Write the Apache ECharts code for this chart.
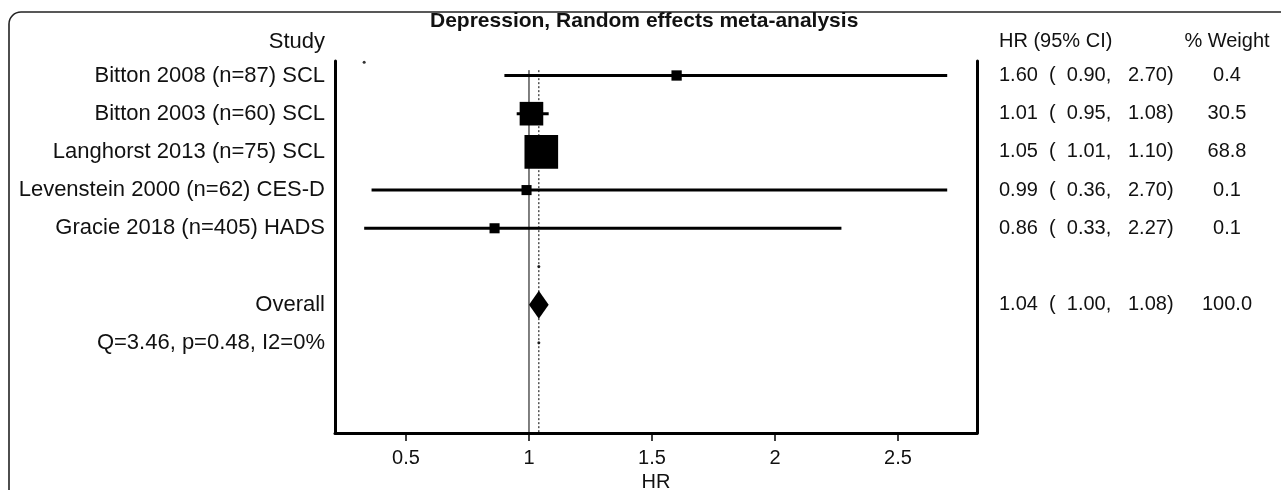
<!DOCTYPE html>
<html>
<head>
<meta charset="utf-8">
<script src="https://cdn.jsdelivr.net/npm/echarts@6/dist/echarts.min.js"></script>
<style>
  html, body { margin: 0; padding: 0; background: #fff; }
  #chart { width: 1281px; height: 490px; }
</style>
</head>
<body>
<div id="chart"></div>
<script>
// study rows, top to bottom
const studies = [
  'Bitton 2008 (n=87) SCL',
  'Bitton 2003 (n=60) SCL',
  'Langhorst 2013 (n=75) SCL',
  'Levenstein 2000 (n=62) CES-D',
  'Gracie 2018 (n=405) HADS'
]
const hr = [1.60, 1.01, 1.05, 0.99, 0.86]
const ciLow = [0.90, 0.95, 1.01, 0.36, 0.33]
const ciHigh = [2.70, 1.08, 1.10, 2.70, 2.27]
const weights = [0.4, 30.5, 68.8, 0.1, 0.1]

// pooled estimate: hr, low, high, weight
const overall = [1.04, 1.00, 1.08, 100.0]
const heterogeneity = 'Q=3.46, p=0.48, I2=0%'

const xTicks = [0.5, 1, 1.5, 2, 2.5]
const nullValue = 1

const font = "'Liberation Sans', Arial, sans-serif"
const ink = '#111'
const xMin = 0.2114
const xMax = 2.8211
const yMax = 10.36 // rows incl. the space under the last line

function ciText(e, l, h) {
  return e.toFixed(2) + '  (  ' + l.toFixed(2) + ',   ' + h.toFixed(2) + ')'
}

// row index -> texts (0 = header, 1..5 studies, 6 blank, 7 overall, 8 heterogeneity)
const rowLabels = ['Study'].concat(studies, ['', 'Overall', heterogeneity])
const rowCI = ['HR (95% CI)'].concat(
  hr.map((v, i) => ciText(v, ciLow[i], ciHigh[i])),
  ['', ciText(overall[0], overall[1], overall[2]), '']
)
const rowWeight = ['% Weight'].concat(
  weights.map(w => w.toFixed(1)),
  ['', overall[3].toFixed(1), '']
)
const overallRow = 7
const rowValues = [0.12, 1, 2, 3, 4, 5, 6, 7, 8] // header sits a little low

const chart = echarts.init(document.getElementById('chart'))

function textAxis(labels, position, size, margin, align) {
  return {
    type: 'value',
    gridIndex: 0,
    position: position,
    min: 0,
    max: yMax,
    inverse: true,
    splitLine: { show: false },
    axisTick: { show: false },
    axisLine: { show: false },
    axisLabel: {
      customValues: rowValues,
      fontSize: size,
      fontFamily: font,
      color: ink,
      margin: margin,
      align: align,
      formatter: v => labels[Math.round(v)] || ''
    }
  }
}

function frameAxis(position) {
  return {
    type: 'value',
    gridIndex: 1,
    position: position,
    min: 0,
    max: 1,
    splitLine: { show: false },
    axisTick: { show: false },
    axisLabel: { show: false },
    axisLine: { show: true, onZero: false, lineStyle: { color: '#000', width: 3 } }
  }
}

const ciSeries = {
  type: 'custom',
  encode: { x: [0, 1], y: 2 },
  renderItem(params, api) {
    const y = api.value(2)
    const a = api.coord([api.value(0), y])
    const b = api.coord([api.value(1), y])
    return {
      type: 'line',
      shape: { x1: a[0], y1: a[1], x2: b[0], y2: b[1] },
      style: { stroke: '#000', lineWidth: 3 }
    }
  },
  data: studies.map((s, i) => [ciLow[i], ciHigh[i], i + 1]),
  z: 3
}

const boxSeries = {
  type: 'scatter',
  symbol: 'rect',
  symbolSize: d => Math.sqrt(100 + 15 * d[2]),
  itemStyle: { color: '#000', opacity: 1 },
  data: hr.map((v, i) => [v, i + 1, weights[i]]),
  z: 4
}

const diamondSeries = {
  type: 'custom',
  encode: { x: [0, 1, 2], y: 3 },
  renderItem(params, api) {
    const y = api.value(3)
    const l = api.coord([api.value(1), y])
    const c = api.coord([api.value(0), y])
    const r = api.coord([api.value(2), y])
    return {
      type: 'polygon',
      shape: { points: [l, [c[0], c[1] - 14], r, [c[0], c[1] + 14]] },
      style: { fill: '#000' }
    }
  },
  data: [[overall[0], overall[1], overall[2], overallRow]],
  z: 4
}

function refLine(x, type) {
  return {
    type: 'line',
    symbol: 'none',
    silent: true,
    lineStyle: { color: '#000', width: 1, type: type },
    data: [[x, 0.86], [x, yMax]],
    z: 2
  }
}

// stray plot points left by the original software
const strayDots = {
  type: 'scatter',
  symbolSize: 3,
  itemStyle: { color: '#000' },
  data: [[Math.min(...ciLow), 0.65], [overall[0], 6], [overall[0], 8]],
  z: 2
}

chart.setOption({
  animation: false,
  backgroundColor: '#fff',
  title: {
    text: 'Depression, Random effects meta-analysis',
    left: 430,
    top: 11,
    padding: 0,
    textStyle: { fontSize: 21, fontWeight: 'bold', color: ink, fontFamily: font }
  },
  graphic: [{
    type: 'rect',
    silent: true,
    shape: { x: 9, y: 12, width: 1400, height: 600, r: 12 },
    style: { fill: 'none', stroke: '#222', lineWidth: 1.6 }
  }],
  grid: [
    { left: 335, right: 304, top: 37.3, bottom: 57, outerBoundsMode: 'none' },
    { left: 335, right: 304, top: 61, bottom: 57, outerBoundsMode: 'none' }
  ],
  xAxis: [{
    type: 'value',
    gridIndex: 0,
    min: xMin,
    max: xMax,
    splitLine: { show: false },
    axisLine: { show: true, onZero: false, lineStyle: { color: '#000', width: 3 } },
    axisTick: { show: true, customValues: xTicks, length: 8, lineStyle: { color: '#000', width: 1.5 } },
    axisLabel: { customValues: xTicks, fontSize: 20, fontFamily: font, color: ink, margin: 15 },
    name: 'HR',
    nameLocation: 'middle',
    nameGap: 35,
    nameTextStyle: { fontSize: 20, fontFamily: font, color: ink }
  }, {
    type: 'value',
    gridIndex: 1,
    min: xMin,
    max: xMax,
    show: false
  }],
  yAxis: [
    textAxis(rowLabels, 'left', 22, 10, 'right'),
    textAxis(rowCI, 'right', 20, 22, 'left'),
    textAxis(rowWeight, 'right', 20, 250, 'center'),
    frameAxis('left'),
    frameAxis('right')
  ],
  series: [
    refLine(nullValue, 'solid'),
    refLine(overall[0], [2, 2]),
    ciSeries,
    boxSeries,
    diamondSeries,
    strayDots
  ]
})
</script>
</body>
</html>
